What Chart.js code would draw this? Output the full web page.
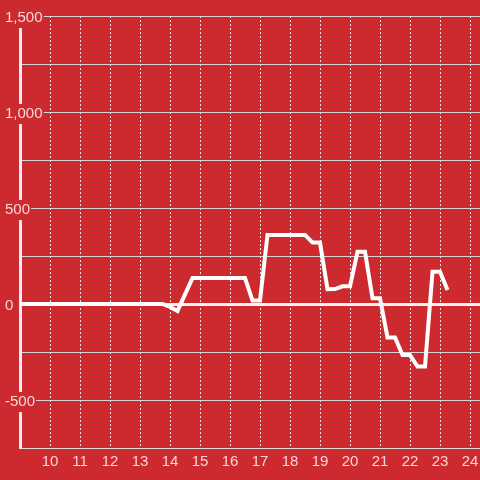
<!DOCTYPE html>
<html>
<head>
<meta charset="utf-8">
<script src="https://cdn.jsdelivr.net/npm/chart.js@4"></script>
<style>
  html, body { margin: 0; padding: 0; background: #cc2a2f; }
  #wrap { width: 480px; height: 480px; }
</style>
</head>
<body>
<div id="wrap"><canvas id="chart"></canvas></div>
<script>
// quarter hour times and values
let times = [9, 9.25, 9.5, 9.75, 10, 10.25, 10.5, 10.75, 11, 11.25, 11.5, 11.75,
    12, 12.25, 12.5, 12.75, 13, 13.25, 13.5, 13.75, 14, 14.25, 14.5, 14.75,
    15, 15.25, 15.5, 15.75, 16, 16.25, 16.5, 16.75, 17, 17.25, 17.5, 17.75,
    18, 18.25, 18.5, 18.75, 19, 19.25, 19.5, 19.75, 20, 20.25, 20.5, 20.75,
    21, 21.25, 21.5, 21.75, 22, 22.25, 22.5, 22.75, 23, 23.25]
let values = [0, 0, 0, 0, 0, 0, 0, 0, 0, 0, 0, 0,
    0, 0, 0, 0, 0, 0, 0, 0, -15, -36, 50, 135,
    135, 135, 135, 135, 135, 135, 135, 18, 18, 360, 360, 360,
    360, 360, 360, 320, 320, 77, 78, 92, 92, 272, 272, 30,
    30, -174, -174, -266, -266, -326, -326, 168, 168, 73]
let hourTicks = [10, 11, 12, 13, 14, 15, 16, 17, 18, 19, 20, 21, 22, 23, 24]
let valueTicks = [-500, 0, 500, 1000, 1500]

let bg = '#cc2a2f'
let labelColor = '#f6d6d6'
let labelFont = {family: '"Liberation Sans", Arial, sans-serif', size: 15}

const points = times.map((t, i) => ({x: t, y: values[i]}))

new Chart(document.getElementById('chart').getContext('2d'), {
    type: 'line',
    data: {
        datasets: [{
            data: points,
            borderColor: '#ffffff',
            borderWidth: 4,
            pointRadius: 0,
            tension: 0,
            fill: false,
        }]
    },
    options: {
        responsive: true,
        maintainAspectRatio: false,
        animation: false,
        layout: {padding: {top: 16, left: 0, right: 0, bottom: 0}},
        plugins: {legend: {display: false}, tooltip: {enabled: false}},
        scales: {
            x: {
                type: 'linear',
                min: 9,
                max: 24.333,
                afterFit: (s) => {
                    s.height = 32
                    s.paddingLeft = 0
                    s.paddingRight = 0
                },
                ticks: {
                    stepSize: 1,
                    includeBounds: false,
                    color: labelColor,
                    font: labelFont,
                    padding: 5,
                    maxRotation: 0,
                    autoSkip: false,
                    callback: (v) => hourTicks.includes(v) ? String(v) : '',
                },
                grid: {
                    color: '#e8e8e8',
                    lineWidth: 1,
                    drawTicks: false,
                },
                border: {color: '#dddddd', width: 1, dash: [2, 2]},
            },
            y: {
                min: -750,
                max: 1500,
                afterFit: (s) => { s.width = 20 },
                ticks: {
                    stepSize: 250,
                    mirror: true,
                    padding: -15,
                    labelOffset: 2,
                    color: labelColor,
                    font: labelFont,
                    showLabelBackdrop: true,
                    backdropColor: bg,
                    backdropPadding: {top: 1, bottom: 1, left: 1, right: 1},
                    callback: (v) => valueTicks.includes(v) ? v.toLocaleString('en-US') : '',
                },
                grid: {
                    color: (c) => c.tick && c.tick.value === 0 ? '#f2f2f2' : '#d6d6d6',
                    lineWidth: (c) => c.tick && c.tick.value === 0 ? 3 : 1,
                    drawTicks: false,
                },
                border: {color: '#eeeeee', width: 3},
            }
        }
    }
});
</script>
</body>
</html>
